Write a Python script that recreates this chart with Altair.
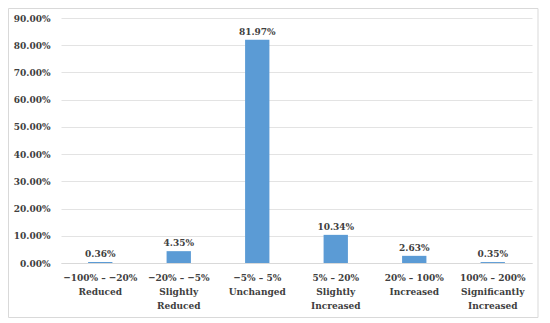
import altair as alt
import pandas as pd

categories = [
    "−100% – −20%|Reduced",
    "−20% – −5%|Slightly|Reduced",
    "−5% – 5%|Unchanged",
    "5% – 20%|Slightly|Increased",
    "20% – 100%|Increased",
    "100% – 200%|Significantly|Increased",
]
values = [0.0036, 0.0435, 0.8197, 0.1034, 0.0263, 0.0035]
labels = ["0.36%", "4.35%", "81.97%", "10.34%", "2.63%", "0.35%"]
yticks = [0.0, 0.1, 0.2, 0.3, 0.4, 0.5, 0.6, 0.7, 0.8, 0.9]

df = pd.DataFrame({"cat": categories, "val": values, "lab": labels})
frame = pd.DataFrame({"bx": [0], "bx2": [1], "by": [0], "by2": [1]})

FONT = "'DejaVu Serif Condensed', 'DejaVu Serif', serif"
FS = 10
TXT = "#404040"
BORDER = "#d9d9d9"

x = alt.X(
    "cat:N",
    sort=categories,
    title=None,
    scale=alt.Scale(paddingInner=0.69, paddingOuter=0.345),
    axis=alt.Axis(
        labelAngle=0,
        labelExpr="split(datum.label, '|')",
        labelLineHeight=14,
        labelPadding=9,
        ticks=False,
        domainColor="#d9d9d9",
        grid=False,
    ),
)
y = alt.Y(
    "val:Q",
    title=None,
    scale=alt.Scale(domain=[0, 0.9], nice=False),
    axis=alt.Axis(
        format=".2%",
        values=yticks,
        tickCount=10,
        labelPadding=11,
        ticks=False,
        domain=False,
        gridColor="#e3e3e3",
    ),
)

base = alt.Chart(df).encode(x=x, y=y)
bars = base.mark_bar(color="#5B9BD5")
text = base.mark_text(
    dy=-5, baseline="alphabetic", font=FONT, fontWeight="bold", fontSize=FS, color=TXT
).encode(text="lab:N")
main = alt.layer(bars, text)

border = alt.Chart(frame).mark_rect(
    fill="transparent", stroke=BORDER, strokeWidth=1
).encode(
    x=alt.X("bx:Q", scale=alt.Scale(domain=[0, 1], range=[-52.5, 477]), axis=None),
    x2="bx2:Q",
    y=alt.Y("by:Q", scale=alt.Scale(domain=[0, 1], range=[299.5, -9.5]), axis=None),
    y2="by2:Q",
)

chart = (
    alt.layer(main, border)
    .resolve_scale(x="independent", y="independent")
    .properties(
        width=471,
        height=245,
        autosize=alt.AutoSizeParams(type="none"),
        padding={"left": 53, "top": 10, "right": 10, "bottom": 55},
    )
    .configure_view(stroke=None)
    .configure_axis(
        labelFont=FONT,
        labelFontWeight="bold",
        labelFontSize=FS,
        labelColor=TXT,
        labelOverlap=False,
    )
)

chart.save("out.html", embed_options={"renderer": "svg", "actions": False})
